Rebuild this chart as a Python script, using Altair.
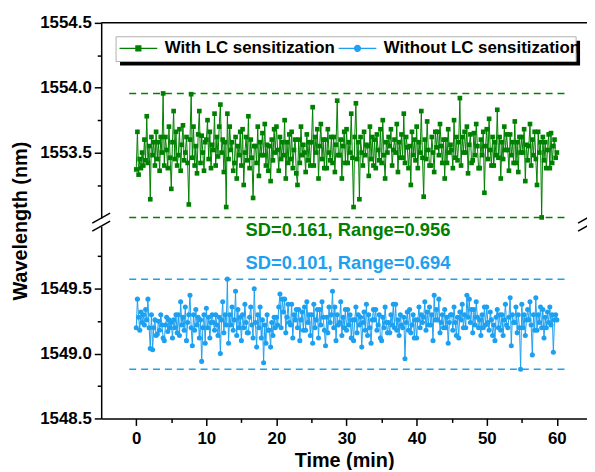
import altair as alt
import pandas as pd

# ---------------- data ----------------
# one reading every 10 s, 0 .. 60 min
time_min = [round(i / 6, 4) for i in range(361)]

with_lc = [
    1553.37, 1553.66, 1553.33, 1553.45, 1553.38, 1553.50,  # 0
    1553.40, 1553.60, 1553.44, 1553.78, 1553.42, 1553.55,  # 1
    1553.14, 1553.62, 1553.48, 1553.58, 1553.40, 1553.66,  # 2
    1553.45, 1553.58, 1553.36, 1553.62, 1553.50, 1553.956,  # 3
    1553.40, 1553.62, 1553.52, 1553.38, 1553.70, 1553.46,  # 4
    1553.22, 1553.58, 1553.82, 1553.45, 1553.66, 1553.40,  # 5
    1553.48, 1553.68, 1553.36, 1553.56, 1553.71, 1553.44,  # 6
    1553.50, 1553.62, 1553.42, 1553.10, 1553.60, 1553.95,  # 7
    1553.46, 1553.70, 1553.40, 1553.55, 1553.34, 1553.64,  # 8
    1553.82, 1553.42, 1553.63, 1553.50, 1553.36, 1553.58,  # 9
    1553.60, 1553.75, 1553.45, 1553.66, 1553.38, 1553.56,  # 10
    1553.52, 1553.80, 1553.40, 1553.62, 1553.47, 1553.70,  # 11
    1553.87, 1553.50, 1553.60, 1553.35, 1553.58, 1553.08,  # 12
    1553.80, 1553.45, 1553.70, 1553.52, 1553.58, 1553.36,  # 13
    1553.42, 1553.62, 1553.30, 1553.55, 1553.48, 1553.66,  # 14
    1553.40, 1553.68, 1553.25, 1553.50, 1553.62, 1553.44,  # 15
    1553.78, 1553.38, 1553.60, 1553.46, 1553.15, 1553.55,  # 16
    1553.55, 1553.42, 1553.70, 1553.32, 1553.58, 1553.48,  # 17
    1553.65, 1553.48, 1553.72, 1553.40, 1553.56, 1553.36,  # 18
    1553.55, 1553.28, 1553.60, 1553.44, 1553.68, 1553.50,  # 19
    1553.70, 1553.52, 1553.36, 1553.62, 1553.45, 1553.58,  # 20
    1553.48, 1553.75, 1553.30, 1553.58, 1553.42, 1553.64,  # 21
    1553.45, 1553.66, 1553.38, 1553.52, 1553.60, 1553.34,  # 22
    1553.25, 1553.60, 1553.42, 1553.70, 1553.48, 1553.56,  # 23
    1553.50, 1553.35, 1553.64, 1553.44, 1553.58, 1553.40,  # 24
    1553.58, 1553.85, 1553.40, 1553.62, 1553.50, 1553.68,  # 25
    1553.30, 1553.55, 1553.72, 1553.45, 1553.60, 1553.38,  # 26
    1553.60, 1553.38, 1553.68, 1553.50, 1553.44, 1553.62,  # 27
    1553.42, 1553.62, 1553.35, 1553.56, 1553.90, 1553.48,  # 28
    1553.48, 1553.60, 1553.30, 1553.55, 1553.66, 1553.42,  # 29
    1553.68, 1553.42, 1553.58, 1553.50, 1553.80, 1553.46,  # 30
    1553.08, 1553.62, 1553.88, 1553.45, 1553.58, 1553.14,  # 31
    1553.62, 1553.50, 1553.40, 1553.66, 1553.48, 1553.56,  # 32
    1553.55, 1553.32, 1553.70, 1553.45, 1553.62, 1553.40,  # 33
    1553.60, 1553.38, 1553.64, 1553.52, 1553.44, 1553.68,  # 34
    1553.42, 1553.75, 1553.48, 1553.30, 1553.58, 1553.50,  # 35
    1553.62, 1553.55, 1553.68, 1553.40, 1553.52, 1553.60,  # 36
    1553.50, 1553.72, 1553.35, 1553.58, 1553.46, 1553.64,  # 37
    1553.46, 1553.80, 1553.42, 1553.62, 1553.54, 1553.38,  # 38
    1553.55, 1553.25, 1553.66, 1553.48, 1553.60, 1553.44,  # 39
    1553.70, 1553.38, 1553.58, 1553.50, 1553.82, 1553.46,  # 40
    1553.16, 1553.60, 1553.45, 1553.74, 1553.52, 1553.40,  # 41
    1553.40, 1553.62, 1553.50, 1553.35, 1553.66, 1553.54,  # 42
    1553.66, 1553.48, 1553.72, 1553.55, 1553.42, 1553.60,  # 43
    1553.30, 1553.60, 1553.42, 1553.68, 1553.50, 1553.56,  # 44
    1553.52, 1553.38, 1553.75, 1553.46, 1553.62, 1553.44,  # 45
    1553.58, 1553.92, 1553.40, 1553.62, 1553.50, 1553.66,  # 46
    1553.50, 1553.70, 1553.34, 1553.56, 1553.64, 1553.42,  # 47
    1553.44, 1553.65, 1553.48, 1553.72, 1553.55, 1553.38,  # 48
    1553.38, 1553.60, 1553.48, 1553.66, 1553.19, 1553.55,  # 49
    1553.68, 1553.45, 1553.76, 1553.52, 1553.40, 1553.62,  # 50
    1553.40, 1553.58, 1553.48, 1553.83, 1553.46, 1553.62,  # 51
    1553.30, 1553.58, 1553.45, 1553.70, 1553.52, 1553.64,  # 52
    1553.52, 1553.36, 1553.64, 1553.48, 1553.58, 1553.42,  # 53
    1553.74, 1553.42, 1553.58, 1553.35, 1553.62, 1553.50,  # 54
    1553.62, 1553.50, 1553.68, 1553.28, 1553.56, 1553.44,  # 55
    1553.55, 1553.72, 1553.40, 1553.60, 1553.48, 1553.66,  # 56
    1553.45, 1553.25, 1553.66, 1553.50, 1553.58, 1553.00,  # 57
    1553.62, 1553.44, 1553.58, 1553.38, 1553.52, 1553.64,  # 58
    1553.38, 1553.65, 1553.42, 1553.55, 1553.60, 1553.46,  # 59
    1553.50,                                               # 60
]

without_lc = [
    1549.20, 1549.42, 1549.28, 1549.18, 1549.32, 1549.24,  # 0
    1549.30, 1549.22, 1549.34, 1549.26, 1549.42, 1549.20,  # 1
    1549.04, 1549.30, 1549.03, 1549.20, 1549.26, 1549.14,  # 2
    1549.15, 1549.25, 1549.18, 1549.30, 1549.22, 1549.12,  # 3
    1549.10, 1549.22, 1549.28, 1549.17, 1549.26, 1549.20,  # 4
    1549.24, 1549.12, 1549.26, 1549.20, 1549.30, 1549.16,  # 5
    1549.30, 1549.14, 1549.40, 1549.22, 1549.28, 1549.18,  # 6
    1549.36, 1549.10, 1549.24, 1549.30, 1549.45, 1549.20,  # 7
    1549.06, 1549.30, 1549.18, 1549.34, 1549.22, 1549.28,  # 8
    1549.12, 1549.26, 1548.94, 1549.20, 1549.30, 1549.08,  # 9
    1549.35, 1549.20, 1549.28, 1549.12, 1549.24, 1549.30,  # 10
    1549.24, 1549.18, 1549.30, 1549.22, 1549.14, 1549.28,  # 11
    1549.00, 1549.26, 1549.40, 1549.16, 1549.30, 1549.22,  # 12
    1549.574, 1549.08, 1549.30, 1549.22, 1549.36, 1549.18,  # 13
    1549.26, 1549.48, 1549.14, 1549.34, 1549.20, 1549.28,  # 14
    1549.10, 1549.30, 1549.20, 1549.38, 1549.24, 1549.16,  # 15
    1549.16, 1549.28, 1549.36, 1549.22, 1549.12, 1549.50,  # 16
    1549.24, 1549.05, 1549.30, 1549.20, 1549.36, 1549.12,  # 17
    1549.26, 1548.93, 1549.22, 1549.08, 1549.30, 1549.18,  # 18
    1549.18, 1549.05, 1549.24, 1549.14, 1549.28, 1549.20,  # 19
    1549.28, 1549.22, 1549.36, 1549.46, 1549.20, 1549.42,  # 20
    1549.32, 1549.42, 1549.16, 1549.28, 1549.38, 1549.24,  # 21
    1549.22, 1549.38, 1549.12, 1549.30, 1549.26, 1549.34,  # 22
    1549.20, 1549.34, 1549.10, 1549.26, 1549.32, 1549.18,  # 23
    1549.36, 1549.18, 1549.40, 1549.24, 1549.30, 1549.14,  # 24
    1549.30, 1549.08, 1549.38, 1549.20, 1549.26, 1549.34,  # 25
    1549.12, 1549.34, 1549.22, 1549.40, 1549.28, 1549.18,  # 26
    1549.06, 1549.28, 1549.16, 1549.36, 1549.24, 1549.30,  # 27
    1549.48, 1549.20, 1549.36, 1549.10, 1549.30, 1549.22,  # 28
    1549.24, 1549.40, 1549.14, 1549.28, 1549.20, 1549.34,  # 29
    1549.18, 1549.34, 1549.22, 1549.30, 1549.12, 1549.26,  # 30
    1549.10, 1549.26, 1549.36, 1549.16, 1549.30, 1549.22,  # 31
    1549.28, 1549.05, 1549.24, 1549.32, 1549.18, 1549.38,  # 32
    1549.14, 1549.30, 1549.20, 1549.08, 1549.26, 1549.34,  # 33
    1549.26, 1549.34, 1549.18, 1549.22, 1549.30, 1549.12,  # 34
    1549.10, 1549.28, 1549.20, 1549.36, 1549.24, 1549.16,  # 35
    1549.24, 1549.16, 1549.30, 1549.22, 1549.38, 1549.20,  # 36
    1549.38, 1549.18, 1549.26, 1549.14, 1549.30, 1549.22,  # 37
    1549.20, 1549.28, 1548.96, 1549.24, 1549.32, 1549.18,  # 38
    1549.34, 1549.16, 1549.22, 1549.30, 1549.12, 1549.26,  # 39
    1549.12, 1549.26, 1549.36, 1549.20, 1549.30, 1549.24,  # 40
    1549.28, 1549.40, 1549.18, 1549.32, 1549.22, 1549.36,  # 41
    1549.22, 1549.30, 1549.10, 1549.45, 1549.26, 1549.34,  # 42
    1549.26, 1549.42, 1549.16, 1549.24, 1549.30, 1549.20,  # 43
    1549.34, 1549.20, 1549.28, 1549.08, 1549.24, 1549.30,  # 44
    1549.30, 1549.18, 1549.36, 1549.24, 1549.14, 1549.28,  # 45
    1549.12, 1549.32, 1549.26, 1549.38, 1549.20, 1549.30,  # 46
    1549.20, 1549.45, 1549.28, 1549.42, 1549.24, 1549.34,  # 47
    1549.16, 1549.34, 1549.22, 1549.40, 1549.28, 1549.20,  # 48
    1549.26, 1549.14, 1549.30, 1549.20, 1549.36, 1549.22,  # 49
    1549.36, 1549.24, 1549.18, 1549.32, 1549.26, 1549.14,  # 50
    1549.22, 1549.10, 1549.28, 1549.34, 1549.20, 1549.30,  # 51
    1549.18, 1549.30, 1549.14, 1549.26, 1549.38, 1549.22,  # 52
    1549.20, 1549.28, 1549.43, 1549.06, 1549.30, 1549.24,  # 53
    1549.24, 1549.36, 1549.16, 1549.30, 1549.20, 1548.88,  # 54
    1549.38, 1549.20, 1549.30, 1549.14, 1549.26, 1549.34,  # 55
    1549.26, 1549.40, 1549.22, 1548.99, 1549.30, 1549.18,  # 56
    1549.43, 1549.18, 1549.30, 1549.24, 1549.36, 1549.20,  # 57
    1549.34, 1549.12, 1549.28, 1549.20, 1549.32, 1549.24,  # 58
    1549.36, 1549.22, 1549.30, 1549.01, 1549.26, 1549.30,  # 59
    1549.26,                                               # 60
]

series_names = ["With LC sensitization", "Without LC sensitization"]
series_colors = ["#008000", "#1ea0f0"]

# reference (dashed) levels: max / min of each series
green_levels = [1553.956, 1553.000]
blue_levels = [1549.574, 1548.880]

annotations = ["SD=0.161, Range=0.956", "SD=0.101, Range=0.694"]

# y tick labels (real values)
lower_ticks = [1548.5, 1549.0, 1549.5]
upper_ticks = [1553.5, 1554.0, 1554.5]

# ---------------- axis-break mapping ----------------
SHIFT = 2.95  # upper segment is drawn shifted down by this amount
FONT = "Liberation Sans"
W, H = 490, 399
Y_DOM = [1548.5, 1551.55]
X_DOM = [-5, 64.3]

df_g = pd.DataFrame({"t": time_min, "d": [v - SHIFT for v in with_lc]})
df_b = pd.DataFrame({"t": time_min, "d": without_lc})

major_disp = lower_ticks + [round(v - SHIFT, 2) for v in upper_ticks]
minor_disp = [1548.75, 1549.25, 1549.75] + [round(v - SHIFT, 2) for v in [1553.25, 1553.75, 1554.25]]
y_values = sorted(major_disp + minor_disp)

lower_js = "[" + ",".join(str(v) for v in lower_ticks) + "]"
upper_js = "[" + ",".join(str(round(v - SHIFT, 2)) for v in upper_ticks) + "]"
major_js = "[" + ",".join(str(v) for v in major_disp) + "]"

y_axis = alt.Axis(
    values=y_values,
    tickCount=100,
    labelExpr=(f"indexof({lower_js}, datum.value) >= 0 ? format(datum.value, '.1f') : "
               f"(indexof({upper_js}, datum.value) >= 0 ? format(datum.value + {SHIFT}, '.1f') : '')"),
    tickSize={"condition": {"test": f"indexof({major_js}, datum.value) >= 0", "value": 7}, "value": 4},
    labelOverlap=False,
    labelFlush=False,
    labelPadding=3,
    titlePadding=9,
    grid=False,
)
x_axis = alt.Axis(
    values=list(range(0, 61, 5)),
    tickCount=100,
    labelExpr="datum.value % 10 === 0 ? format(datum.value, 'd') : ''",
    tickSize={"condition": {"test": "datum.value % 10 === 0", "value": 7}, "value": 4},
    labelOverlap=False,
    labelFlush=False,
    labelPadding=5,
    titlePadding=4,
    grid=False,
)

x_enc = alt.X("t:Q", scale=alt.Scale(domain=X_DOM, nice=False, zero=False), axis=x_axis, title="Time (min)")
y_enc = alt.Y("d:Q", scale=alt.Scale(domain=Y_DOM, nice=False, zero=False), axis=y_axis, title="Wavelength (nm)")

one = pd.DataFrame({"a": [0]})


def disp_px(ypix_from_top):
    # convert a pixel offset inside the plot into a display value (for decorations)
    return Y_DOM[0] + (H - ypix_from_top) * (Y_DOM[1] - Y_DOM[0]) / H


# dashed reference lines
df_dash = pd.DataFrame({
    "d": [v - SHIFT for v in green_levels] + blue_levels,
    "c": [series_colors[0]] * 2 + [series_colors[1]] * 2,
})
dash = alt.Chart(df_dash).mark_rule(strokeDash=[7, 5], strokeWidth=1.5).encode(
    x=alt.datum(-1), x2=alt.datum(61.5), y=y_enc, color=alt.Color("c:N", scale=None)
)

# annotations
df_txt = pd.DataFrame({
    "t": [30.2, 30.2],
    "d": [disp_px(209), disp_px(242)],
    "label": annotations,
    "c": series_colors,
})
texts = alt.Chart(df_txt).mark_text(font=FONT, fontSize=18.5, fontWeight="bold", baseline="middle").encode(
    x=x_enc, y=y_enc, text="label:N", color=alt.Color("c:N", scale=None)
)

# series
line_g = alt.Chart(df_g).mark_line(color=series_colors[0], strokeWidth=1).encode(x=x_enc, y=y_enc)
pts_g = alt.Chart(df_g).mark_point(shape="square", filled=True, size=22, opacity=1,
                                   color=series_colors[0]).encode(x=x_enc, y=y_enc)
line_b = alt.Chart(df_b).mark_line(color=series_colors[1], strokeWidth=1).encode(x=x_enc, y=y_enc)
pts_b = alt.Chart(df_b).mark_point(shape="circle", filled=True, size=26, opacity=1,
                                   color=series_colors[1]).encode(x=x_enc, y=y_enc)

# spines / break decorations
top_spine = alt.Chart(one).mark_rule(color="black", strokeWidth=1.5).encode(
    x=alt.value(0), x2=alt.value(W), y=alt.value(0)
)
gap = alt.Chart(one).mark_rect(color="white").encode(
    x=alt.value(-3), x2=alt.value(3), y=alt.datum(disp_px(197.5)), y2=alt.datum(disp_px(205.5))
)
df_brk = pd.DataFrame({
    "d": [disp_px(202), disp_px(210)],
    "d2": [disp_px(192), disp_px(200)],
})
brk_left = alt.Chart(df_brk).mark_rule(color="black", strokeWidth=1.5).encode(
    x=alt.value(-9), x2=alt.value(9), y=y_enc, y2="d2:Q"
)
brk_right = alt.Chart(df_brk).mark_rule(color="black", strokeWidth=1.5).encode(
    x=alt.value(W - 9), x2=alt.value(W + 9), y=y_enc, y2="d2:Q"
)

# legend frame with shadow
shadow = alt.Chart(one).mark_rect(color="black").encode(
    x=alt.value(19), x2=alt.value(483), y=alt.value(18), y2=alt.value(43)
)
frame = alt.Chart(one).mark_rect(fill="white", stroke="#b0b0b0", strokeWidth=1).encode(
    x=alt.value(15), x2=alt.value(479), y=alt.value(14), y2=alt.value(39)
)

# legend (built from the series names / colours through scales)
shape_paths = [
    "M-3.17,0H3.17M-0.42,-0.42H0.42V0.42H-0.42Z",
    "M-3.17,0H3.17M-0.5,0A0.5,0.5,0,1,1,0.5,0A0.5,0.5,0,1,1,-0.5,0Z",
]
leg = alt.Legend(
    orient="none", legendX=29, legendY=17, direction="horizontal", title=None,
    labelFont=FONT, labelFontSize=17, labelFontWeight="bold", labelColor="black", labelLimit=400,
    symbolSize=144, symbolStrokeWidth=1.2, symbolOpacity=1, labelOffset=18, columnPadding=1,
    padding=0, zindex=1,
)
df_leg = pd.DataFrame({"t": [-100, -100], "d": [1549.0, 1549.0], "series": series_names})
legend_layer = alt.Chart(df_leg).mark_point(filled=True, clip=True).encode(
    x=x_enc, y=y_enc,
    fill=alt.Fill("series:N", scale=alt.Scale(domain=series_names, range=series_colors), legend=leg),
    stroke=alt.Stroke("series:N", scale=alt.Scale(domain=series_names, range=series_colors), legend=leg),
    shape=alt.Shape("series:N", scale=alt.Scale(domain=series_names, range=shape_paths), legend=leg),
)

chart = alt.layer(
    top_spine, shadow, frame, dash, line_g, pts_g, line_b, pts_b, texts, gap, brk_left, brk_right,
    legend_layer
).properties(
    width=W, height=H,
    padding={"left": 94, "top": 13, "right": 0, "bottom": 50},
    autosize=alt.AutoSizeParams(type="none"),
).configure_view(stroke=None).configure_axis(
    labelFont=FONT, labelFontSize=17, labelFontWeight="bold", labelColor="black",
    titleFont=FONT, titleFontSize=20, titleFontWeight="bold", titleColor="black",
    domainColor="black", domainWidth=1.5, tickColor="black", tickWidth=1.5,
)

chart.save("out.html", embed_options={"renderer": "svg", "actions": False})
